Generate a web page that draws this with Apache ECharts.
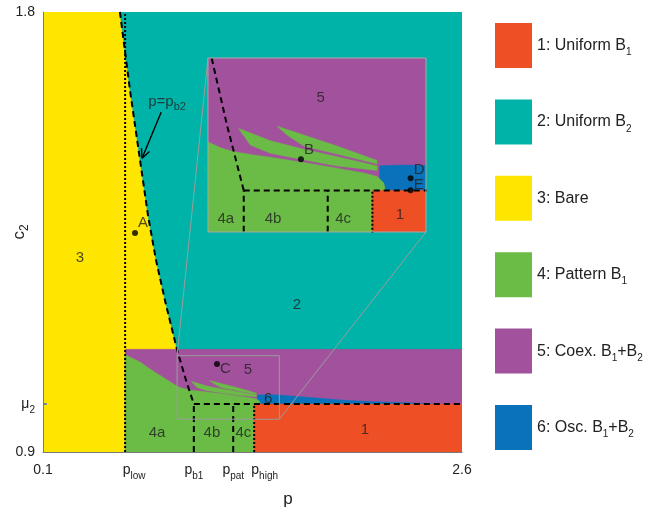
<!DOCTYPE html>
<html>
<head>
<meta charset="utf-8">
<script src="https://cdn.jsdelivr.net/npm/echarts@6/dist/echarts.min.js"></script>
<style>
  html, body { margin: 0; padding: 0; background: #fff; }
  #chart { width: 651px; height: 512px; }
</style>
</head>
<body>
<div id="chart"></div>
<script>
// ---- axis extents ----
const pRange = [0.1, 2.6];
const c2Range = [0.9, 1.8];
// magnified window shown in the inset
const insetP = [0.9, 1.51];
const insetC2 = [0.967, 1.097];

// ---- critical values ----
const pLow = 0.59;
const pB1 = 1.0;
const pPat = 1.235;
const pHigh = 1.36;
const mu2 = 0.998;
const bandTop = 1.11;   // upper edge of the coexistence band

// p = p_b2 boundary (Bare / Uniform B2), continued down to (p_b1, mu2)
const pb2Curve = [[0.559, 1.8], [0.619, 1.640], [0.679, 1.497], [0.726, 1.385], [0.774, 1.293],
                  [0.834, 1.201], [0.900, 1.109], [0.953, 1.047], [1.0, 0.998]];

// upper edge of the Pattern B1 region
const greenTop = [[0.59, 1.099], [0.679, 1.084], [0.738, 1.070], [0.82, 1.052], [0.902, 1.034],
                  [0.935, 1.030], [0.972, 1.027], [1.028, 1.0246], [1.075, 1.0228], [1.168, 1.0189],
                  [1.261, 1.0147], [1.336, 1.011], [1.373, 1.0085], [1.392, 1.0036], [1.396, 0.998]];

// upper edge of the oscillating region
const blueTop = [[1.38, 1.0165], [1.45, 1.017], [1.51, 1.0166], [1.58, 1.0145], [1.675, 1.0119],
                 [1.77, 1.0092], [1.872, 1.0064], [2.069, 1.0029], [2.272, 1.0009], [2.469, 0.998]];

// pattern tongues reaching into the coexistence band
const fingerA = [[0.9859, 1.0443], [1.0279, 1.0401], [1.0745, 1.0352], [1.1678, 1.0288], [1.2610, 1.0233],
                 [1.3730, 1.0164], [1.3730, 1.0130], [1.2610, 1.0164], [1.1678, 1.0209], [1.0745, 1.0258],
                 [1.0185, 1.0320]];
const fingerB = [[1.0932, 1.0461], [1.1678, 1.0394], [1.2610, 1.0312], [1.3730, 1.0204], [1.3730, 1.0179],
                 [1.2610, 1.0253], [1.1678, 1.0312], [1.1212, 1.0394]];

// ---- legend ----
const regionNames = ['1: Uniform B_1', '2: Uniform B_2', '3: Bare', '4: Pattern B_1', '5: Coex. B_1+B_2', '6: Osc. B_1+B_2'];

// ---- ticks ----
const xTickValues = [0.1, pLow, pB1, pPat, pHigh, 2.6];
const xTickText = ['0.1', 'p_low', 'p_b1', 'p_pat', 'p_high', '2.6'];
const yTickValues = [0.9, mu2, 1.8];
const yTickText = ['0.9', 'μ_2', '1.8'];

// ---- marked states ----
const mainPoints = [[0.649, 1.348, 'A'], [1.138, 1.080, 'C']];
const insetPoints = [[1.160, 1.0213, 'B'], [1.467, 1.0071, 'D'], [1.467, 0.9982, 'E']];

// ---- region labels ----
const mainRegionLabels = [[0.321, 1.297, '3'], [1.615, 1.201, '2'], [0.780, 0.939, '4a'], [1.108, 0.939, '4b'],
                          [1.296, 0.939, '4c'], [2.021, 0.945, '1'], [1.323, 1.068, '5'], [1.443, 1.008, '6']];
const insetRegionLabels = [[1.215, 1.067, '5'], [0.950, 0.9767, '4a'], [1.082, 0.9767, '4b'],
                           [1.278, 0.9767, '4c'], [1.437, 0.9797, '1']];

// annotation of the p_b2 curve with its arrow
const pb2Note = [0.840, 1.616, 'p=p_b2'];
const pb2Arrow = [[0.805, 1.595], [0.691, 1.501]];

// ---------------- styling ----------------
const FONT = '"Liberation Sans", Arial, Helvetica, sans-serif';
const INK = '#222222';
const COLORS = { 1: '#EE4F24', 2: '#00B3A9', 3: '#FFE600', 4: '#6BBC46', 5: '#A2519C', 6: '#0A72BA' };
const MAIN = { left: 43, top: 12, width: 419, height: 440 };
const INSET = { left: 208, top: 58, width: 218, height: 174 };
const LABEL_OFFSET = { A: [0, -10], C: [0, 5], B: [0, -9], D: [0, -8], E: [0, -5] };

// "B_1" -> rich text with subscripts
function richText(str) {
  return '{n|' + str.replace(/_([A-Za-z0-9]+)/g, '}{s|$1}{n|') + '}';
}
function richStyles(F, f, L) {
  return {
    n: { fontSize: F, lineHeight: L, color: INK, fontFamily: FONT },
    s: { fontSize: f, lineHeight: f, color: INK, fontFamily: FONT, verticalAlign: 'bottom' },
    pad: { width: 18 },
    padH: { width: 21 }
  };
}
function findIdx(arr, v) {
  for (let i = 0; i < arr.length; i++) if (Math.abs(arr[i] - v) < 1e-6) return i;
  return -1;
}

function rectPts(x0, x1, y0, y1) { return [[x0, y0], [x1, y0], [x1, y1], [x0, y1]]; }

const polys = {
  3: rectPts(pRange[0], pRange[1], c2Range[0], c2Range[1]),
  2: pb2Curve.concat([[pRange[1], mu2], [pRange[1], c2Range[1]]]),
  5: rectPts(pLow, pRange[1], c2Range[0], bandTop),
  6: blueTop.concat([[blueTop[blueTop.length - 1][0], mu2], [blueTop[0][0], mu2]]),
  4: [[pLow, c2Range[0]]].concat(greenTop, [[greenTop[greenTop.length - 1][0], c2Range[0]]]),
  1: rectPts(pHigh, pRange[1], c2Range[0], mu2)
};
const drawOrder = [3, 2, 5, 6, 4, 1];

function polygonSeries(name, color, pts, gi, z) {
  return {
    type: 'custom', name: name, xAxisIndex: gi, yAxisIndex: gi, z: z, clip: true, silent: true,
    itemStyle: { color: color }, data: [0],
    renderItem: function (params, api) {
      return {
        type: 'polygon',
        shape: { points: pts.map(function (p) { return api.coord(p); }) },
        style: { fill: color, stroke: color, lineWidth: 0.5 }
      };
    }
  };
}

function lineSeries(pts, dash, gi, z) {
  return {
    type: 'line', xAxisIndex: gi, yAxisIndex: gi, z: z, data: pts, symbol: 'none', silent: true,
    clip: true, lineStyle: { color: '#000', width: 2, type: dash }
  };
}

function pointSeries(pts, gi, z) {
  return {
    type: 'scatter', xAxisIndex: gi, yAxisIndex: gi, z: z, symbolSize: 6, silent: true,
    itemStyle: { color: '#000' },
    data: pts.map(function (p) {
      return { name: p[2], value: [p[0], p[1]], label: { offset: LABEL_OFFSET[p[2]] } };
    }),
    label: { show: true, position: 'right', distance: 0, formatter: function (d) { return d.name; },
             fontSize: 15, color: INK, fontFamily: FONT }
  };
}

function textSeries(items, gi, z) {
  return {
    type: 'scatter', xAxisIndex: gi, yAxisIndex: gi, z: z, symbolSize: 0, silent: true,
    data: items.map(function (t) { return { name: t[2], value: [t[0], t[1]] }; }),
    label: { show: true, position: 'inside', formatter: function (d) { return richText(d.name); },
             rich: richStyles(15, 11, 22) }
  };
}

function regionSet(gi, z) {
  const out = drawOrder.map(function (k) { return polygonSeries(regionNames[k - 1], COLORS[k], polys[k], gi, z); });
  out.push(polygonSeries(regionNames[3], COLORS[4], fingerA, gi, z));
  out.push(polygonSeries(regionNames[3], COLORS[4], fingerB, gi, z));
  return out;
}

function boundarySet(gi, z) {
  return [
    lineSeries(pb2Curve, [6, 4], gi, z),
    lineSeries([[pB1, mu2], [pRange[1], mu2]], [6, 4], gi, z),
    lineSeries([[pB1, c2Range[0]], [pB1, mu2]], [6, 4], gi, z),
    lineSeries([[pPat, c2Range[0]], [pPat, mu2]], [6, 4], gi, z),
    lineSeries([[pLow, c2Range[0]], [pLow, c2Range[1]]], [2, 2], gi, z),
    lineSeries([[pHigh, c2Range[0]], [pHigh, mu2]], [2, 2], gi, z)
  ];
}

const series = [].concat(
  regionSet(0, 2),
  boundarySet(0, 3),
  [
    // magnified window and its leader lines toward the inset
    {
      type: 'custom', xAxisIndex: 0, yAxisIndex: 0, z: 5, silent: true, data: [0],
      renderItem: function (params, api) {
        const a = api.coord([insetP[0], insetC2[1]]);
        const b = api.coord([insetP[1], insetC2[0]]);
        const st = { stroke: '#9c9c9c', lineWidth: 1, fill: null };
        return {
          type: 'group', children: [
            { type: 'rect', shape: { x: a[0], y: a[1], width: b[0] - a[0], height: b[1] - a[1] }, style: st },
            { type: 'line', shape: { x1: a[0], y1: a[1], x2: INSET.left, y2: INSET.top }, style: st },
            { type: 'line', shape: { x1: b[0], y1: b[1], x2: INSET.left + INSET.width, y2: INSET.top + INSET.height }, style: st }
          ]
        };
      }
    },
    // arrow pointing at the p_b2 curve
    {
      type: 'custom', xAxisIndex: 0, yAxisIndex: 0, z: 4, silent: true, data: [0],
      renderItem: function (params, api) {
        const s = api.coord(pb2Arrow[0]);
        const e = api.coord(pb2Arrow[1]);
        const ang = Math.atan2(e[1] - s[1], e[0] - s[0]);
        const len = 10, spread = 0.45;
        const st = { stroke: '#000', lineWidth: 1.4 };
        return {
          type: 'group', children: [
            { type: 'line', shape: { x1: s[0], y1: s[1], x2: e[0], y2: e[1] }, style: st },
            { type: 'line', shape: { x1: e[0], y1: e[1], x2: e[0] - len * Math.cos(ang - spread), y2: e[1] - len * Math.sin(ang - spread) }, style: st },
            { type: 'line', shape: { x1: e[0], y1: e[1], x2: e[0] - len * Math.cos(ang + spread), y2: e[1] - len * Math.sin(ang + spread) }, style: st }
          ]
        };
      }
    },
    pointSeries(mainPoints, 0, 4),
    textSeries(mainRegionLabels.concat([pb2Note]), 0, 4)
  ],
  regionSet(1, 10),
  boundarySet(1, 11),
  [
    pointSeries(insetPoints, 1, 12),
    textSeries(insetRegionLabels, 1, 12),
    // inset frame
    {
      type: 'custom', xAxisIndex: 1, yAxisIndex: 1, z: 20, silent: true, data: [0],
      renderItem: function (params) {
        const c = params.coordSys;
        return { type: 'rect', shape: { x: c.x, y: c.y, width: c.width, height: c.height },
                 style: { fill: null, stroke: '#a8a8a8', lineWidth: 1 } };
      }
    }
  ]
);

const chart = echarts.init(document.getElementById('chart'));
chart.setOption({
  animation: false,
  backgroundColor: '#fff',
  textStyle: { fontFamily: FONT },
  grid: [
    Object.assign({ containLabel: false, outerBoundsMode: 'none' }, MAIN),
    Object.assign({ containLabel: false, outerBoundsMode: 'none' }, INSET)
  ],
  xAxis: [
    {
      gridIndex: 0, type: 'value', min: pRange[0], max: pRange[1], z: 30,
      axisLine: { show: true, onZero: false, lineStyle: { color: '#7a7a7a', width: 1 } },
      axisTick: { show: false }, splitLine: { show: false },
      axisLabel: {
        customValues: xTickValues, margin: 7, fontSize: 14, color: INK,
        formatter: function (v) {
          const i = findIdx(xTickValues, v);
          if (i < 0) return '';
          let t = richText(xTickText[i]);
          if (xTickText[i] === 'p_low') t = '{pad|}' + t;
          if (xTickText[i] === 'p_high') t = '{padH|}' + t;
          return t;
        },
        rich: richStyles(14, 10, 22)
      },
      name: 'p', nameLocation: 'middle', nameGap: 39, nameMoveOverlap: false,
      nameTextStyle: { fontSize: 17, color: INK, fontFamily: FONT, padding: [0, 0, 0, 71] }
    },
    { gridIndex: 1, type: 'value', min: insetP[0], max: insetP[1], show: false }
  ],
  yAxis: [
    {
      gridIndex: 0, type: 'value', min: c2Range[0], max: c2Range[1], z: 30,
      axisLine: { show: true, onZero: false, lineStyle: { color: '#7a7a7a', width: 1 } },
      axisTick: { show: true, customValues: [mu2], inside: true, length: 4, lineStyle: { color: '#4f6bb5', width: 1.5 } },
      splitLine: { show: false },
      axisLabel: {
        customValues: yTickValues, margin: 8, fontSize: 14, color: INK,
        formatter: function (v) {
          const i = findIdx(yTickValues, v);
          return i < 0 ? '' : richText(yTickText[i]);
        },
        rich: richStyles(14, 10, 22)
      },
      name: richText('c_2'), nameLocation: 'middle', nameGap: 12, nameMoveOverlap: false,
      nameTextStyle: { fontSize: 17, color: INK, rich: richStyles(17, 12, 24) }
    },
    { gridIndex: 1, type: 'value', min: insetC2[0], max: insetC2[1], show: false }
  ],
  legend: {
    orient: 'vertical', left: 495, top: 23, padding: 0, itemWidth: 37, itemHeight: 45, itemGap: 31.4,
    selectedMode: false, icon: 'rect',
    data: regionNames.map(function (n, i) { return { name: n, icon: 'rect', itemStyle: { color: COLORS[i + 1] } }; }),
    formatter: function (n) { return richText(n); },
    textStyle: { rich: richStyles(16, 10, 24) }
  },
  series: series
});
</script>
</body>
</html>
